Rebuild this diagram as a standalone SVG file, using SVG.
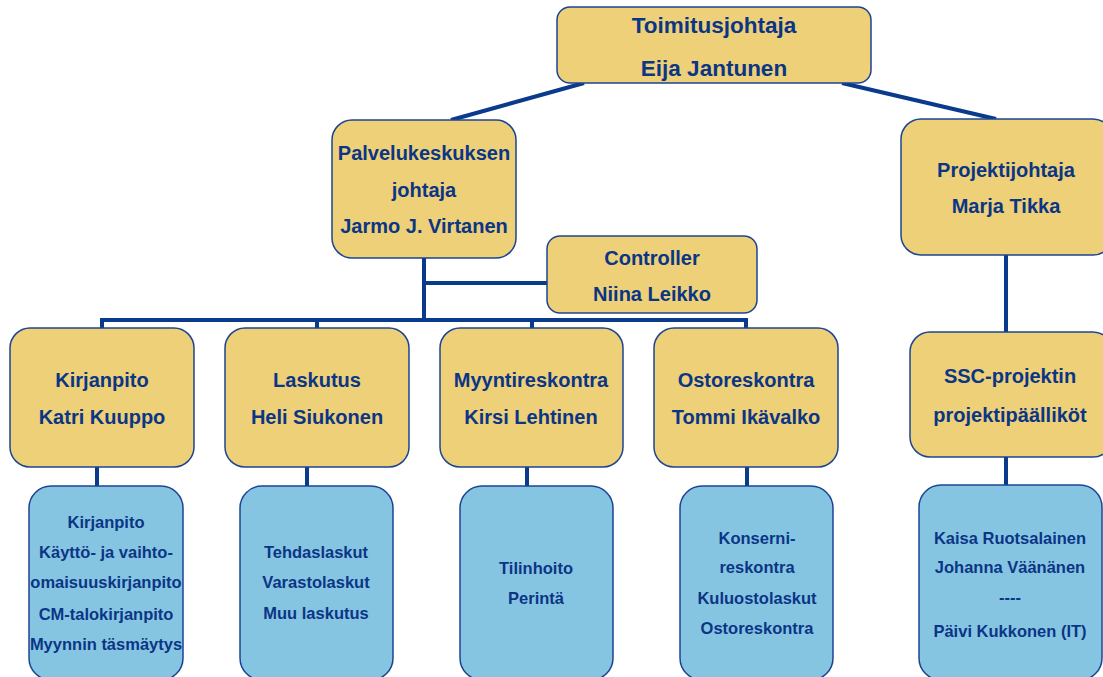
<svg xmlns="http://www.w3.org/2000/svg" width="1103" height="677" viewBox="0 0 1103 677">
<defs>
<style>
.y{fill:#edd077;stroke:#1d4494;stroke-width:1.5}
.b{fill:#86c5e2;stroke:#1d4494;stroke-width:1.5}
text{font-family:"Liberation Sans",Arial,sans-serif;font-weight:bold;fill:#0b3585;text-anchor:middle}
.t1{font-size:22.5px}
.t2{font-size:20px}
.t3{font-size:16.5px}
.c{stroke:#0a3a8c;stroke-width:4;fill:none}
</style>
</defs>
<rect width="1103" height="677" fill="#fff"/>
<g id="connectors" class="c">
<line x1="584" y1="83" x2="451" y2="120"/>
<line x1="842" y1="83" x2="996" y2="119"/>
<polyline points="424,258 424,320"/>
<line x1="424" y1="283" x2="547" y2="283"/>
<polyline points="102,328 102,320 746,320 746,328"/>
<line x1="317" y1="320" x2="317" y2="328"/>
<line x1="532" y1="320" x2="532" y2="328"/>
<line x1="97" y1="467" x2="97" y2="486"/>
<line x1="307" y1="467" x2="307" y2="486"/>
<line x1="527" y1="467" x2="527" y2="486"/>
<line x1="747" y1="467" x2="747" y2="486"/>
<line x1="1006" y1="255" x2="1006" y2="332"/>
<line x1="1006" y1="457" x2="1006" y2="485"/>
</g>
<g id="toimitusjohtaja">
<rect class="y" x="557" y="7" width="314" height="76" rx="13"/>
<text class="t1" x="714" y="33">Toimitusjohtaja</text>
<text class="t1" x="714" y="76">Eija Jantunen</text>
</g>
<g id="palvelukeskus">
<rect class="y" x="332" y="120" width="184" height="138" rx="20"/>
<text class="t2" x="424" y="160">Palvelukeskuksen</text>
<text class="t2" x="424" y="197">johtaja</text>
<text class="t2" x="424" y="233">Jarmo J. Virtanen</text>
</g>
<g id="controller">
<rect class="y" x="547" y="236" width="210" height="77" rx="13"/>
<text class="t2" x="652" y="265">Controller</text>
<text class="t2" x="652" y="301">Niina Leikko</text>
</g>
<g id="projektijohtaja">
<rect class="y" x="901" y="119" width="212" height="136" rx="20"/>
<text class="t2" x="1006" y="177">Projektijohtaja</text>
<text class="t2" x="1006" y="213">Marja Tikka</text>
</g>
<g id="ssc">
<rect class="y" x="910" y="332" width="203" height="125" rx="20"/>
<text class="t2" x="1010" y="383">SSC-projektin</text>
<text class="t2" x="1010" y="422">projektipäälliköt</text>
</g>
<g id="kirjanpito">
<rect class="y" x="10" y="328" width="184" height="139" rx="20"/>
<text class="t2" x="102" y="387">Kirjanpito</text>
<text class="t2" x="102" y="424">Katri Kuuppo</text>
</g>
<g id="laskutus">
<rect class="y" x="225" y="328" width="184" height="139" rx="20"/>
<text class="t2" x="317" y="387">Laskutus</text>
<text class="t2" x="317" y="424">Heli Siukonen</text>
</g>
<g id="myyntireskontra">
<rect class="y" x="440" y="328" width="183" height="139" rx="20"/>
<text class="t2" x="531" y="387">Myyntireskontra</text>
<text class="t2" x="531" y="424">Kirsi Lehtinen</text>
</g>
<g id="ostoreskontra">
<rect class="y" x="654" y="328" width="184" height="139" rx="20"/>
<text class="t2" x="746" y="387">Ostoreskontra</text>
<text class="t2" x="746" y="424">Tommi Ikävalko</text>
</g>
<g id="kirjanpito-tehtavat">
<rect class="b" x="29" y="486" width="154" height="194" rx="22"/>
<text class="t3" x="106" y="528">Kirjanpito</text>
<text class="t3" x="106" y="558">Käyttö- ja vaihto-</text>
<text class="t3" x="106" y="588">omaisuuskirjanpito</text>
<text class="t3" x="106" y="620">CM-talokirjanpito</text>
<text class="t3" x="106" y="650">Myynnin täsmäytys</text>
</g>
<g id="laskutus-tehtavat">
<rect class="b" x="240" y="486" width="153" height="194" rx="22"/>
<text class="t3" x="316" y="558">Tehdaslaskut</text>
<text class="t3" x="316" y="588">Varastolaskut</text>
<text class="t3" x="316" y="619">Muu laskutus</text>
</g>
<g id="myynti-tehtavat">
<rect class="b" x="460" y="486" width="153" height="194" rx="22"/>
<text class="t3" x="536" y="574">Tilinhoito</text>
<text class="t3" x="536" y="604">Perintä</text>
</g>
<g id="osto-tehtavat">
<rect class="b" x="680" y="486" width="153" height="194" rx="22"/>
<text class="t3" x="757" y="544">Konserni-</text>
<text class="t3" x="757" y="573">reskontra</text>
<text class="t3" x="757" y="604">Kuluostolaskut</text>
<text class="t3" x="757" y="634">Ostoreskontra</text>
</g>
<g id="ssc-henkilot">
<rect class="b" x="919" y="485" width="183" height="195" rx="22"/>
<text class="t3" x="1010" y="544">Kaisa Ruotsalainen</text>
<text class="t3" x="1010" y="573">Johanna Väänänen</text>
<text class="t3" x="1010" y="603">----</text>
<text class="t3" x="1010" y="637">Päivi Kukkonen (IT)</text>
</g>
</svg>
